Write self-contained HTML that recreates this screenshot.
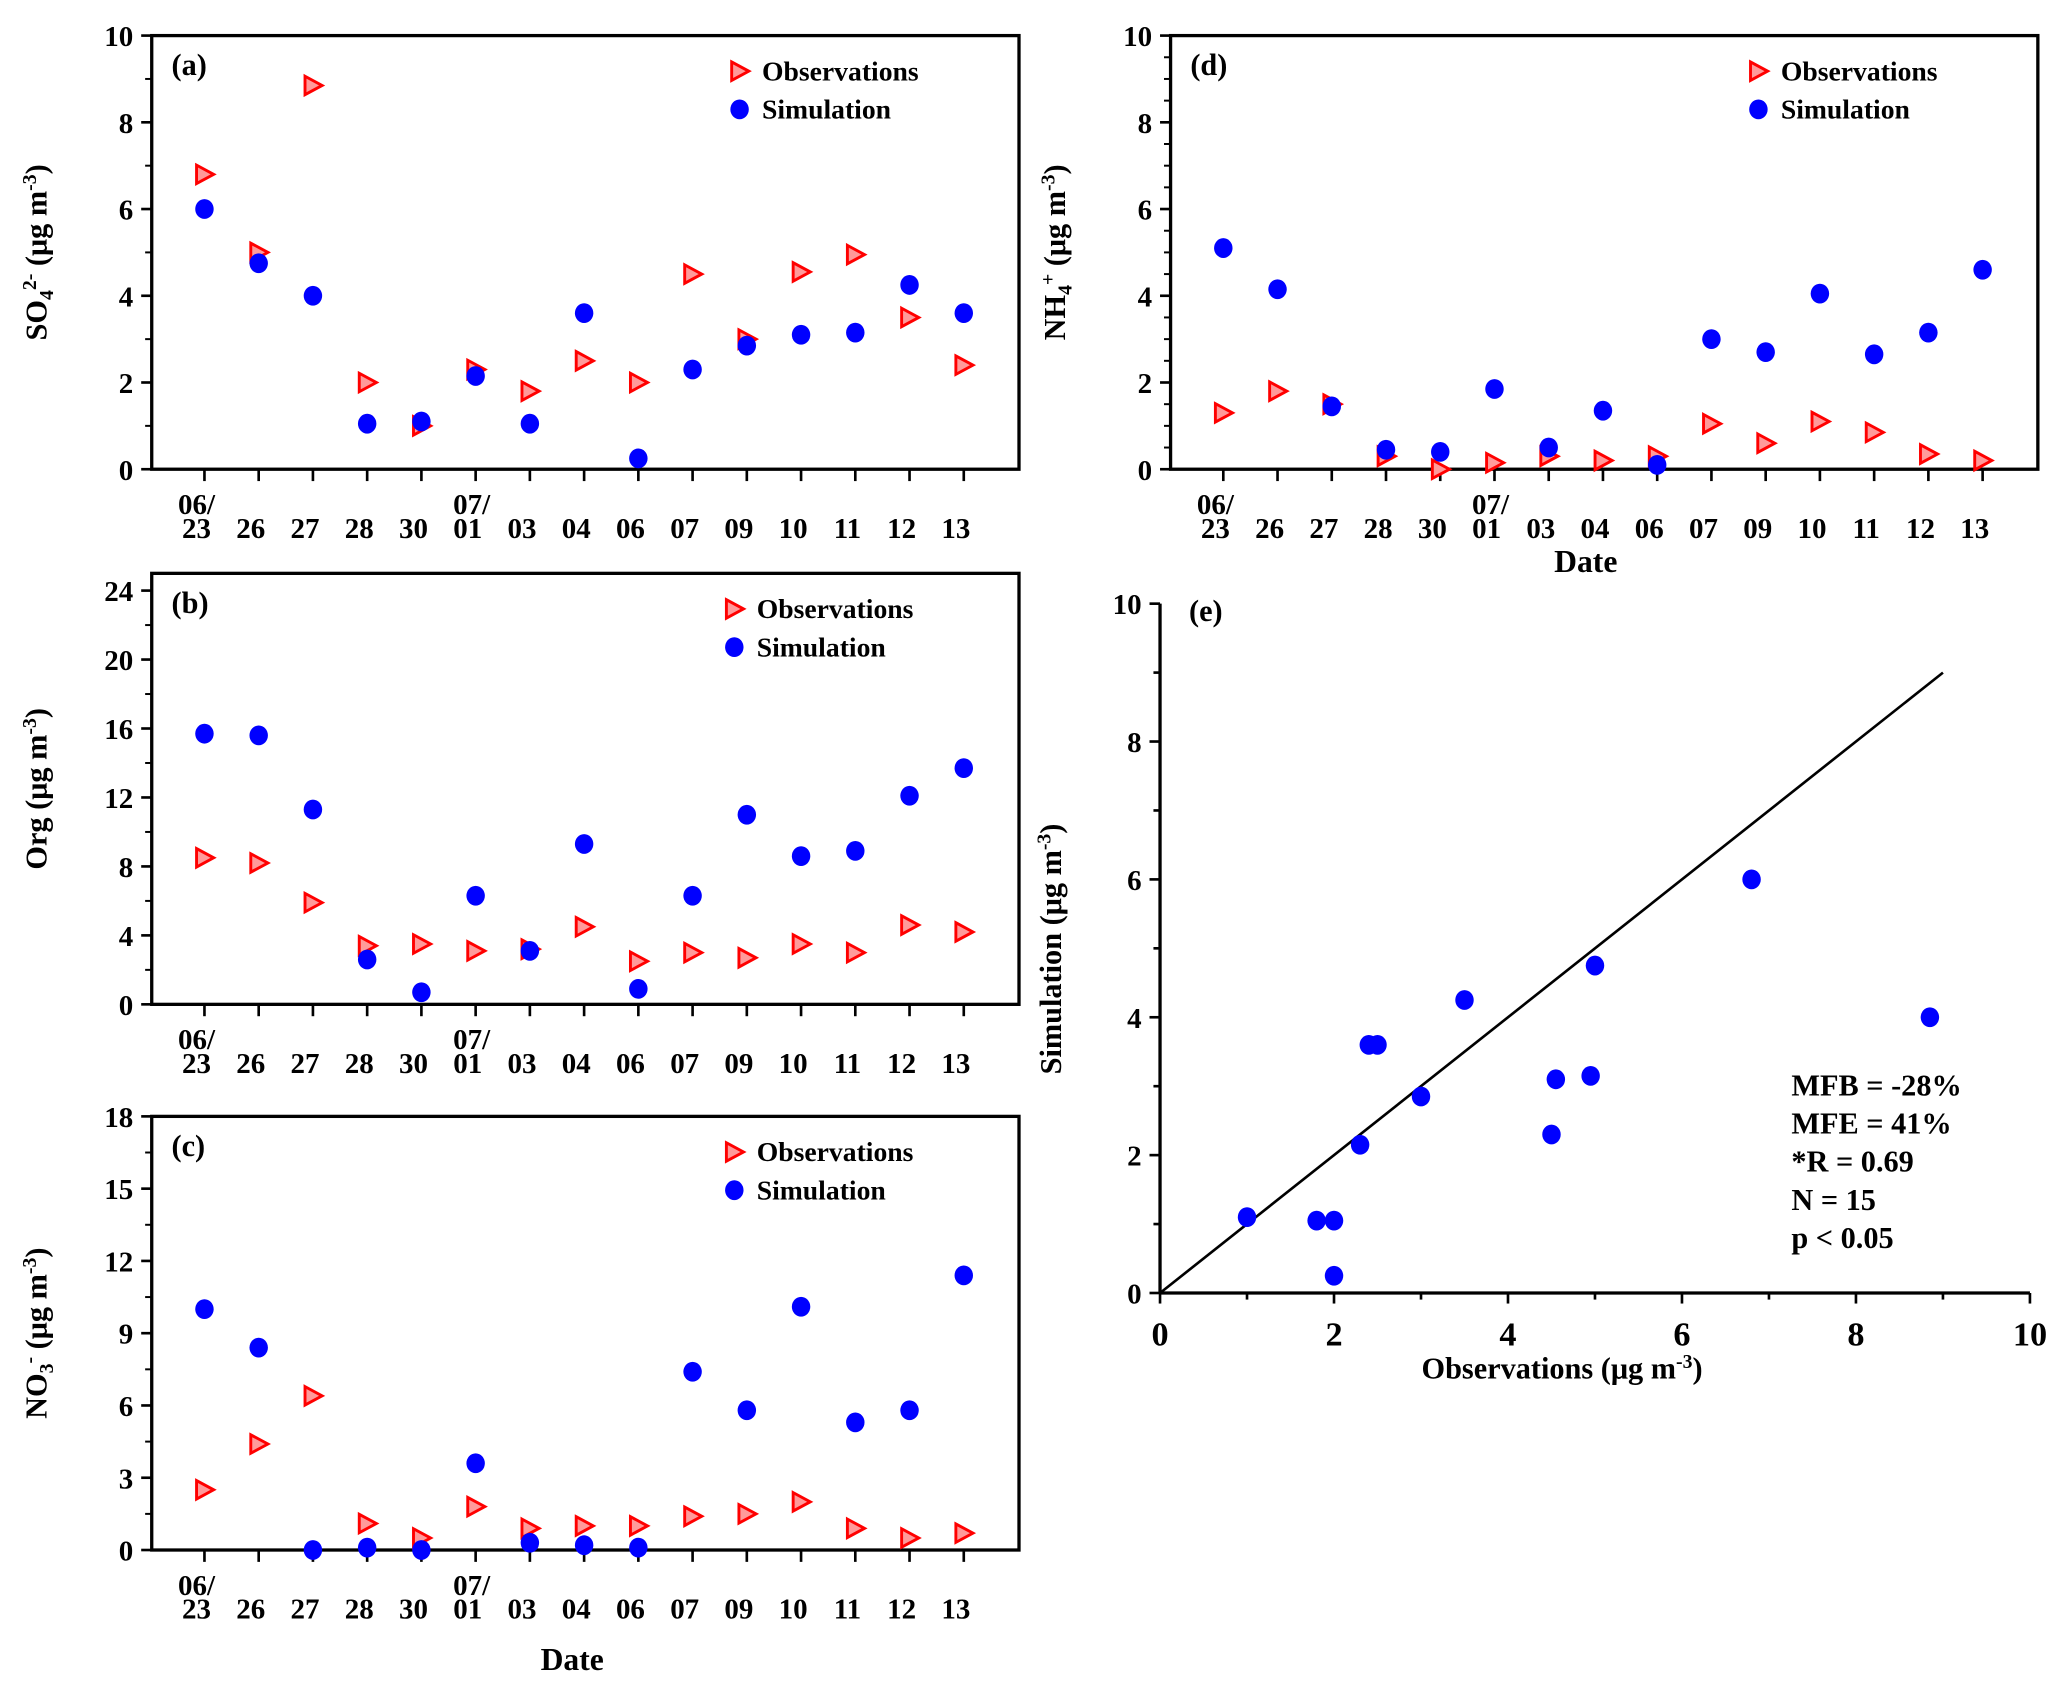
<!DOCTYPE html>
<html><head><meta charset="utf-8">
<style>
html,body{margin:0;padding:0;background:#fff;}
svg{display:block;}
text{font-family:"Liberation Serif",serif;font-weight:bold;fill:#000;}
</style></head>
<body>
<svg id="fig" width="2067" height="1695" viewBox="0 0 1568 1286" xmlns="http://www.w3.org/2000/svg"></svg>
<script>
const dates1 = ["23","26","27","28","30","01","03","04","06","07","09","10","11","12","13"];
const so4Obs = [6.8,5.0,8.85,2.0,1.0,2.3,1.8,2.5,2.0,4.5,3.0,4.55,4.95,3.5,2.4];
const so4Sim = [6.0,4.75,4.0,1.05,1.1,2.15,1.05,3.6,0.25,2.3,2.85,3.1,3.15,4.25,3.6];
const orgObs = [8.5,8.2,5.9,3.4,3.5,3.1,3.2,4.5,2.5,3.0,2.7,3.5,3.0,4.6,4.2];
const orgSim = [15.7,15.6,11.3,2.6,0.7,6.3,3.1,9.3,0.9,6.3,11.0,8.6,8.9,12.1,13.7];
const no3Obs = [2.5,4.4,6.4,1.1,0.5,1.8,0.9,1.0,1.0,1.4,1.5,2.0,0.9,0.5,0.7];
const no3Sim = [10.0,8.4,0.0,0.1,0.0,3.6,0.3,0.2,0.1,7.4,5.8,10.1,5.3,5.8,11.4];
const nh4Obs = [1.3,1.8,1.5,0.3,0.0,0.15,0.3,0.2,0.3,1.05,0.6,1.1,0.85,0.35,0.2];
const nh4Sim = [5.1,4.15,1.45,0.45,0.4,1.85,0.5,1.35,0.1,3.0,2.7,4.05,2.65,3.15,4.6];
const scatterTicks = [0,2,4,6,8,10];
const statsLines = ["MFB = -28%","MFE = 41%","*R = 0.69","N = 15","p < 0.05"];

const NS="http://www.w3.org/2000/svg";
const svg=document.getElementById('fig');
function el(tag,attrs,parent){const e=document.createElementNS(NS,tag);for(const k in attrs)e.setAttribute(k,attrs[k]);(parent||svg).appendChild(e);return e;}
function txt(s,x,y,size,anchor,parent){const t=el('text',{x:x,y:y,'font-size':size,'text-anchor':anchor||'middle'},parent);t.textContent=s;return t;}
function tri(g,x,y){const p=el('path',{d:`M${x-6},${y-7} L${x+7},${y} L${x-6},${y+7} Z`,fill:'#ff9a9a',stroke:'#ff0000','stroke-width':2.2},g);

}
function dot(g,x,y){const c=el('ellipse',{cx:x,cy:y,rx:7,ry:7.5,fill:'#0000ff'},g);

}

function panel(o){
  const g=el('g',{});
  
  
  const L=o.L,T=o.T,R=o.R,B=o.B;
  const ys=v=>B-(v/o.ymax)*(B-T);
  const xs=i=>L+40+i*41.15;
  el('rect',{x:L,y:T,width:R-L,height:B-T,fill:'none',stroke:'#000','stroke-width':2.5},g);
  for(let v=0;v<=o.ymax+1e-9;v+=o.minor){
    const major=Math.abs(v/o.major-Math.round(v/o.major))<1e-6;
    el('line',{x1:L-(major?8:5),x2:L,y1:ys(v),y2:ys(v),stroke:'#000','stroke-width':major?2:1.5},g);
    if(major) txt(String(Math.round(v)),L-14,ys(v)+8,22,'end',g);
  }
  dates1.forEach((d,i)=>{
    el('line',{x1:xs(i),x2:xs(i),y1:B,y2:B+9,stroke:'#000','stroke-width':2},g);
    txt(d,xs(i)-6,B+52,22,'middle',g);
  });
  txt("06/",xs(0)-6,B+34,22,'middle',g);
  txt("07/",xs(5)-3,B+34,22,'middle',g);
  txt(o.label,L+15,T+30,23,'start',g);
  tri(g,o.legX,T+27);txt("Observations",o.legX+17,T+34,21,'start',g);
  dot(g,o.legX,T+56);txt("Simulation",o.legX+17,T+63,21,'start',g);
  const yt=el('text',{x:0,y:0,'font-size':23,'text-anchor':'middle',transform:`translate(${L-80},${(T+B)/2}) rotate(-90)`},g);
  yt.innerHTML=o.ytitle;
  o.obs.forEach((v,i)=>tri(g,xs(i),ys(v)));
  o.sim.forEach((v,i)=>dot(g,xs(i),ys(v)));
  return g;
}
panel({name:'panel-a-so4',L:115,T:27,R:773,B:356,ymax:10,major:2,minor:1,label:'(a)',legX:561,obs:so4Obs,sim:so4Sim,
  ytitle:'SO<tspan font-size="15" dy="5">4</tspan><tspan font-size="15" dy="-13">2-</tspan><tspan dy="8"> (μg m</tspan><tspan font-size="15" dy="-8">-3</tspan><tspan dy="8">)</tspan>'});
panel({name:'panel-b-org',L:115,T:435,R:773,B:762,ymax:25,major:4,minor:2,label:'(b)',legX:557,obs:orgObs,sim:orgSim,
  ytitle:'Org (μg m<tspan font-size="15" dy="-8">-3</tspan><tspan dy="8">)</tspan>'});
panel({name:'panel-c-no3',L:115,T:847,R:773,B:1176,ymax:18,major:3,minor:1.5,label:'(c)',legX:557,obs:no3Obs,sim:no3Sim,
  ytitle:'NO<tspan font-size="15" dy="5">3</tspan><tspan font-size="15" dy="-13">-</tspan><tspan dy="8"> (μg m</tspan><tspan font-size="15" dy="-8">-3</tspan><tspan dy="8">)</tspan>'});
panel({name:'panel-d-nh4',L:888,T:27,R:1546,B:356,ymax:10,major:2,minor:0.5,label:'(d)',legX:1334,obs:nh4Obs,sim:nh4Sim,
  ytitle:'NH<tspan font-size="15" dy="5">4</tspan><tspan font-size="15" dy="-13">+</tspan><tspan dy="8"> (μg m</tspan><tspan font-size="15" dy="-8">-3</tspan><tspan dy="8">)</tspan>'});
const dd=txt("Date",1203,434,24,'middle');
const dc=txt("Date",434,1267,24,'middle');

(function(){
  const g=el('g',{});
  
  
  const L=880,R=1540,T=458,B=981;
  const xs=v=>L+v/10*(R-L), ys=v=>B-v/10*(B-T);
  el('line',{x1:L,x2:R,y1:B,y2:B,stroke:'#000','stroke-width':2.5},g);
  el('line',{x1:L,x2:L,y1:T,y2:B,stroke:'#000','stroke-width':2.5},g);
  for(let v=0;v<=10;v+=1){
    const major=v%2===0;
    el('line',{x1:L-(major?8:5),x2:L,y1:ys(v),y2:ys(v),stroke:'#000','stroke-width':2},g);
    el('line',{x1:xs(v),x2:xs(v),y1:B,y2:B+(major?8:5),stroke:'#000','stroke-width':2},g);
  }
  scatterTicks.forEach(v=>{
    txt(String(v),L-14,ys(v)+8,22,'end',g);
    txt(String(v),xs(v),B+40,26,'middle',g);
  });
  el('line',{x1:xs(0),y1:ys(0),x2:xs(9),y2:ys(9),stroke:'#000','stroke-width':2},g);
  so4Obs.forEach((v,i)=>dot(g,xs(v),ys(so4Sim[i])));
  txt("(e)",L+22,T+13,23,'start',g);
  statsLines.forEach((s,i)=>txt(s,1359,831+i*29,23,'start',g));
  const xt=el('text',{x:1185,y:1046,'font-size':23,'text-anchor':'middle'},g);
  xt.innerHTML='Observations (μg m<tspan font-size="15" dy="-8">-3</tspan><tspan dy="8">)</tspan>';
  const yt=el('text',{x:0,y:0,'font-size':23,'text-anchor':'middle',transform:`translate(805,720) rotate(-90)`},g);
  yt.innerHTML='Simulation (μg m<tspan font-size="15" dy="-8">-3</tspan><tspan dy="8">)</tspan>';
})();
</script>
</body></html>
